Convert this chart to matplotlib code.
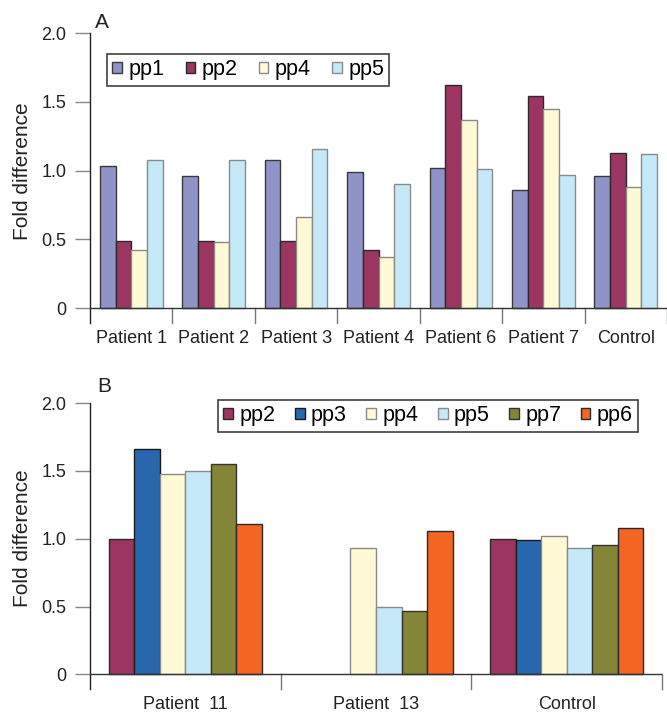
import numpy as np
import matplotlib
matplotlib.use('Agg')
import matplotlib.pyplot as plt

plt.rcParams['font.family'] = ['Liberation Sans', 'DejaVu Sans']

# panel A data
groups_a = ['Patient 1', 'Patient 2', 'Patient 3', 'Patient 4', 'Patient 6', 'Patient 7', 'Control']
series_a = ['pp1', 'pp2', 'pp4', 'pp5']
pp1_a = [1.03, 0.96, 1.08, 0.99, 1.02, 0.86, 0.96]
pp2_a = [0.49, 0.49, 0.49, 0.42, 1.62, 1.54, 1.13]
pp4_a = [0.42, 0.48, 0.66, 0.37, 1.37, 1.45, 0.88]
pp5_a = [1.08, 1.08, 1.16, 0.90, 1.01, 0.97, 1.12]

# panel B data
groups_b = ['Patient  11', 'Patient  13', 'Control']
series_b = ['pp2', 'pp3', 'pp4', 'pp5', 'pp7', 'pp6']
pp2_b = [1.00, np.nan, 1.00]
pp3_b = [1.66, np.nan, 0.99]
pp4_b = [1.48, 0.93, 1.02]
pp5_b = [1.50, 0.50, 0.93]
pp7_b = [1.55, 0.47, 0.95]
pp6_b = [1.11, 1.06, 1.08]

colors = {'pp1': '#8f93c7', 'pp2': '#9c3562', 'pp3': '#2866ae', 'pp4': '#fffad5',
          'pp5': '#c5e9f9', 'pp6': '#f26522', 'pp7': '#848536'}
edges = {'pp1': '#3a3a3a', 'pp2': '#2a2a2a', 'pp3': '#1a1a1a', 'pp4': '#8a8a8a',
         'pp5': '#8a8a8a', 'pp6': '#2a2a2a', 'pp7': '#333333'}

W, H = 667, 712
fig = plt.figure(figsize=(W / 100, H / 100), dpi=100)


def panel(rect, groups, names, values, bw, ymin, leg_xy, colsp, label, label_xy):
    ax = fig.add_axes(rect)
    n = len(groups)
    x = np.arange(n)
    k = len(names)
    for i, (nm, v) in enumerate(zip(names, values)):
        off = (i - (k - 1) / 2) * bw
        ax.bar(x + off, v, bw, color=colors[nm], edgecolor=edges[nm], linewidth=1.0,
               label=nm, zorder=3)
    ax.set_xlim(-0.5, n - 0.5)
    ax.set_ylim(ymin, 2.0)
    for s in ['top', 'right', 'bottom']:
        ax.spines[s].set_visible(False)
    ax.spines['left'].set_color('#222222')
    ax.spines['left'].set_linewidth(1.0)
    ax.axhline(0, color='#333333', lw=1.0, zorder=4)
    for b in np.arange(0.5, n - 0.4, 1.0):
        ax.plot([b, b], [ymin, 0], color='#777777', lw=1.0, clip_on=False)
    ax.set_yticks([0, 0.5, 1.0, 1.5, 2.0])
    ax.set_yticklabels(['0', '0.5', '1.0', '1.5', '2.0'])
    ax.tick_params(axis='y', length=11, width=1.0, color='#888888', pad=6,
                   labelsize=13, labelcolor='#222222')
    ax.set_xticks(x)
    ax.set_xticklabels(groups)
    ax.tick_params(axis='x', length=0, pad=5, labelsize=13, labelcolor='#222222')
    leg = ax.legend(loc='upper left', bbox_to_anchor=leg_xy, bbox_transform=fig.transFigure,
                    ncol=k, fontsize=15.5, frameon=True, fancybox=False,
                    handlelength=0.45, handleheight=0.45, handletextpad=0.3,
                    columnspacing=colsp, borderpad=0.25, borderaxespad=0)
    leg.get_frame().set_edgecolor('#111111')
    leg.get_frame().set_linewidth(1.2)
    fig.text(label_xy[0], label_xy[1], label, fontsize=15, ha='left', va='baseline',
             color='#222222')
    return ax


ax1 = panel([90 / W, 1 - 323 / H, 577 / W, 290 / H], groups_a, series_a,
            [pp1_a, pp2_a, pp4_a, pp5_a], 0.19, -0.109,
            (107 / W, 1 - 54 / H), 0.98, 'A', (95 / W, 1 - 28 / H))
ax2 = panel([90 / W, 1 - 689 / H, 572 / W, 286 / H], groups_b, series_b,
            [pp2_b, pp3_b, pp4_b, pp5_b, pp7_b, pp6_b], 0.134, -0.108,
            (218 / W, 1 - 400 / H), 0.9, 'B', (97 / W, 1 - 392 / H))

fig.text(22.5 / W, 1 - 171.5 / H, 'Fold difference', rotation=90, fontsize=15,
         ha='center', va='center', color='#222222')
fig.text(22.5 / W, 1 - 538.5 / H, 'Fold difference', rotation=90, fontsize=15,
         ha='center', va='center', color='#222222')

fig.savefig('out.png', dpi=100)
